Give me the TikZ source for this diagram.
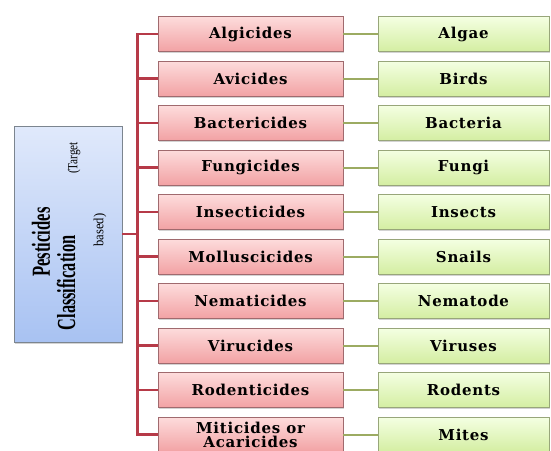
\documentclass[tikz,border=0pt]{standalone}
\usepackage{fontspec}
\usetikzlibrary{shadows}
\newfontfamily\boxfont[LetterSpace=5]{DejaVu Serif}
\newfontfamily\titlefont{Liberation Serif}
\definecolor{pinktop}{HTML}{FDDCDC}
\definecolor{pinkbot}{HTML}{F2A2A4}
\definecolor{pinkedge}{HTML}{A06A6E}
\definecolor{greentop}{HTML}{F4FFE2}
\definecolor{greenbot}{HTML}{D4EEA2}
\definecolor{greenedge}{HTML}{98A67A}
\definecolor{bluetop}{HTML}{E0E9FB}
\definecolor{bluebot}{HTML}{A8C2F2}
\definecolor{blueedge}{HTML}{7C858F}
\definecolor{redline}{HTML}{B63A48}
\definecolor{oliveline}{HTML}{9CAB62}
\begin{document}
\begin{tikzpicture}[x=1pt,y=-1pt,
  boxbase/.style={line width=0.8pt, inner sep=0pt, align=center,
    drop shadow={opacity=0.35, shadow xshift=1.2pt, shadow yshift=-1.5pt},
    font=\boxfont\bfseries\fontsize{15}{14}\selectfont},
  pinkbox/.style={boxbase, draw=pinkedge, top color=pinktop, bottom color=pinkbot,
    minimum width=185pt, minimum height=35pt},
  greenbox/.style={boxbase, draw=greenedge, top color=greentop, bottom color=greenbot,
    minimum width=171pt, minimum height=35pt},
  rootbox/.style={draw=blueedge, line width=0.8pt, top color=bluetop, bottom color=bluebot,
    minimum width=108pt, minimum height=216pt, inner sep=0pt,
    drop shadow={opacity=0.35, shadow xshift=1.2pt, shadow yshift=-1.5pt}},
  bigtitle/.style={rotate=90, inner sep=0pt, font=\titlefont\bfseries\fontsize{26}{26}\selectfont},
  smalltitle/.style={rotate=90, inner sep=0pt, font=\titlefont\fontsize{14}{14}\selectfont},
  redconn/.style={draw=redline, line width=2.6pt},
  greenconn/.style={draw=oliveline, line width=2pt}
]
\useasboundingbox (0,0) rectangle (551,450);

\node[rootbox] (root) at (68,234) {};
\node[bigtitle] (t1) at (41,242) {\scalebox{0.64}[1]{Pesticides}};
\node[bigtitle] (t2) at (66,283) {\scalebox{0.63}[1]{Classification}};
\node[smalltitle] (t3) at (74,158) {\scalebox{0.8}[1]{(Target}};
\node[smalltitle] (t4) at (100,230) {\scalebox{0.9}[1]{based)}};

\foreach \i/\a/\b in {1/Algicides/Algae, 2/Avicides/Birds, 3/Bactericides/Bacteria,
  4/Fungicides/Fungi, 5/Insecticides/Insects, 6/Molluscicides/Snails,
  7/Nematicides/Nematode, 8/Virucides/Viruses, 9/Rodenticides/Rodents,
  10/{Miticides or\\Acaricides}/Mites}{
  \pgfmathsetmacro{\yy}{34+44.5*(\i-1)}
  \node[pinkbox] (p\i) at (250.5,\yy) {\a};
  \node[greenbox] (g\i) at (463.5,\yy) {\b};
  \draw[greenconn] (p\i.east) -- (g\i.west);
}

\draw[redconn] (p1.west) -- ++(-20,0) coordinate (trunk) |- (p10.west);
\foreach \i in {2,...,9}{
  \draw[redconn] (p\i.west) -- (p\i.west -| trunk);
}
\draw[redconn] (root.east) -- (root.east -| trunk);
\end{tikzpicture}
\end{document}
